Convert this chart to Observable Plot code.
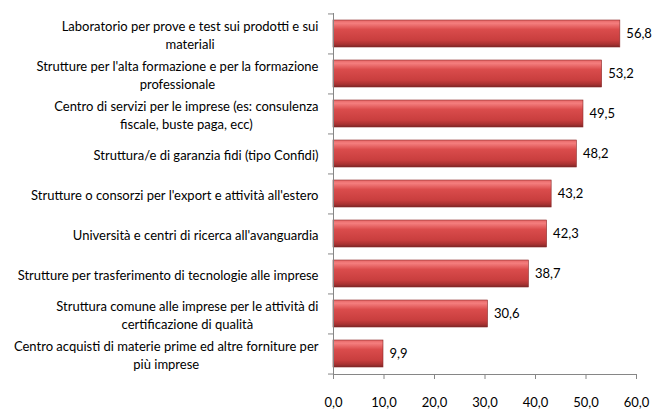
<!DOCTYPE html>
<html>
<head>
<meta charset="utf-8">
<script src="https://cdn.jsdelivr.net/npm/d3@7"></script>
<script src="https://cdn.jsdelivr.net/npm/@observablehq/plot@0.6"></script>
<style>
  html, body { margin: 0; padding: 0; background: #fff; }
</style>
</head>
<body>
<div id="chart"></div>
<script>
const categories = [
  "Laboratorio per prove e test sui prodotti e sui\nmateriali",
  "Strutture per l'alta formazione e per la formazione\nprofessionale",
  "Centro di servizi per le imprese (es: consulenza\nfiscale, buste paga, ecc)",
  "Struttura/e di garanzia fidi (tipo Confidi)",
  "Strutture o consorzi per l'export e attività all'estero",
  "Università e centri di ricerca all'avanguardia",
  "Strutture per trasferimento di tecnologie alle imprese",
  "Struttura comune alle imprese per le attività di\ncertificazione di qualità",
  "Centro acquisti di materie prime ed altre forniture per\npiù imprese"
];
const values = [56.8, 53.2, 49.5, 48.2, 43.2, 42.3, 38.7, 30.6, 9.9];
const xTicks = [0, 10, 20, 30, 40, 50, 60];

const data = categories.map((c, i) => ({cat: c, value: values[i]}));
const fmt = v => d3.format(".1f")(v).replace(".", ",");

const W = 653, H = 410;
const mT = 13, mB = 36, mL = 333, mR = 17;
const step = (H - mT - mB) / categories.length;
const FONT = "Lato, 'DejaVu Sans Condensed', sans-serif";

const plot = Plot.plot({
  width: W, height: H,
  marginTop: mT, marginBottom: mB, marginLeft: mL, marginRight: mR,
  style: {fontFamily: FONT, fontSize: "13px", color: "#000", background: "#fff"},
  x: {domain: [0, 60], axis: null},
  y: {domain: categories, paddingInner: 0.33, paddingOuter: 0.165, axis: null},
  marks: [
    Plot.barX(data, {x: "value", y: "cat", fill: "url(#redGrad)", stroke: "#8a2a2a", strokeWidth: 0.6}),
    Plot.text(data, {x: "value", y: "cat", text: d => fmt(d.value), dx: 6, textAnchor: "start", fill: "#000"}),
    Plot.text(data, {x: 0, y: "cat", text: "cat", dx: -15, textAnchor: "end", lineHeight: 1.42, fill: "#000"}),
    Plot.ruleY(categories, {y: d => d, x1: 0, x2: 0, insetLeft: -5, dy: -step / 2, stroke: "#868686"}),
    Plot.ruleY(categories.slice(-1), {y: d => d, x1: 0, x2: 0, insetLeft: -5, dy: step / 2, stroke: "#868686"}),
    Plot.ruleX([0], {stroke: "#868686"}),
    Plot.frame({anchor: "bottom", stroke: "#868686"}),
    Plot.axisX({ticks: xTicks, tickFormat: fmt, tickSize: 5, tickPadding: 18, label: null, stroke: "#868686", color: "#000", fontSize: 13})
  ]
});

document.getElementById("chart").appendChild(plot);

// gradient definition for the bars
const ns = "http://www.w3.org/2000/svg";
const defs = document.createElementNS(ns, "defs");
defs.innerHTML = `
  <linearGradient id="redGrad" x1="0" y1="0" x2="0" y2="1">
    <stop offset="0" stop-color="#e56464"/>
    <stop offset="0.12" stop-color="#f47e7e"/>
    <stop offset="0.35" stop-color="#da4c4c"/>
    <stop offset="0.75" stop-color="#c83e3e"/>
    <stop offset="0.9" stop-color="#a83232"/>
    <stop offset="1" stop-color="#7c2626"/>
  </linearGradient>`;
plot.insertBefore(defs, plot.firstChild);

// center multi-line category labels on each other (block right-aligned)
const textGroups = plot.querySelectorAll('g[aria-label="text"]');
const labelGroup = textGroups[1];
labelGroup.querySelectorAll("text").forEach(t => {
  const spans = t.querySelectorAll("tspan");
  if (spans.length > 1) {
    const maxW = d3.max(Array.from(spans), s => s.getComputedTextLength());
    t.setAttribute("text-anchor", "middle");
    spans.forEach(s => s.setAttribute("x", -maxW / 2));
  }
});
</script>
</body>
</html>
